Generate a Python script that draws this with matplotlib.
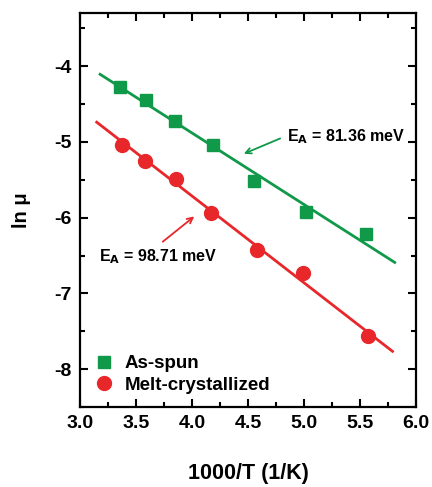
import numpy as np
import matplotlib.pyplot as plt
from matplotlib.ticker import MultipleLocator

plt.rcParams['font.family'] = ['Liberation Sans', 'DejaVu Sans']
plt.rcParams['font.weight'] = 'bold'
plt.rcParams['axes.unicode_minus'] = False

# data
x_spun = np.array([3.36, 3.59, 3.85, 4.19, 4.55, 5.02, 5.55])
y_spun = np.array([-4.27, -4.45, -4.73, -5.04, -5.52, -5.93, -6.22])
x_melt = np.array([3.38, 3.58, 3.86, 4.17, 4.58, 4.99, 5.57])
y_melt = np.array([-5.04, -5.25, -5.49, -5.94, -6.42, -6.73, -7.56])
ea_spun = 81.36   # meV
ea_melt = 98.71
fit_x_spun = [3.18, 5.81]
fit_x_melt = [3.15, 5.79]

green = '#11994a'
red = '#e8272b'
kB = 8.617e-5  # eV/K


def arrhenius_line(x, y, ea, xr):
    # slope fixed by activation energy, intercept through data mean
    slope = -ea * 1e-3 / kB / 1000
    b = y.mean() - slope * x.mean()
    xr = np.array(xr)
    return xr, b + slope * xr


fig = plt.figure(figsize=(4.32, 4.87), dpi=100)
ax = fig.add_axes([0.185, 0.164, 0.778, 0.809])

lx, ly = arrhenius_line(x_spun, y_spun, ea_spun, fit_x_spun)
ax.plot(lx, ly, color=green, lw=2)
lx, ly = arrhenius_line(x_melt, y_melt, ea_melt, fit_x_melt)
ax.plot(lx, ly, color=red, lw=2)

ax.plot(x_spun, y_spun, 's', color=green, ms=9, ls='none', label='As-spun')
ax.plot(x_melt, y_melt, 'o', color=red, ms=10, ls='none', label='Melt-crystallized')

ax.annotate('', xy=(4.44, -5.17), xytext=(4.81, -4.94),
            arrowprops=dict(arrowstyle='->', color=green, lw=1.3))
ax.text(4.85, -4.93, r'E$_\mathbf{A}$ = 81.36 meV', fontsize=11.5,
        fontweight='bold', va='center')
ax.annotate('', xy=(4.04, -5.96), xytext=(3.72, -6.34),
            arrowprops=dict(arrowstyle='->', color=red, lw=1.3))
ax.text(3.17, -6.52, r'E$_\mathbf{A}$ = 98.71 meV', fontsize=11.5,
        fontweight='bold', va='center')

ax.set_xlim(3.0, 6.0)
ax.set_ylim(-8.5, -3.3)
ax.xaxis.set_major_locator(MultipleLocator(0.5))
ax.xaxis.set_minor_locator(MultipleLocator(0.25))
ax.yaxis.set_major_locator(MultipleLocator(1))
ax.yaxis.set_minor_locator(MultipleLocator(0.5))
ax.tick_params(which='both', direction='in', top=True, right=True, width=1.5)
ax.tick_params(which='major', length=6, labelsize=14, pad=6)
ax.tick_params(which='minor', length=3.5)
for s in ax.spines.values():
    s.set_linewidth(1.6)

ax.set_xlabel('1000/T (1/K)', fontsize=15.5, fontweight='bold', labelpad=22)
ax.set_ylabel('ln μ', fontsize=14.5, fontweight='bold', labelpad=17)

ax.legend(loc='lower left', frameon=False, handletextpad=0.5,
          borderaxespad=0.3, labelspacing=0.25, handlelength=1.2,
          prop={'weight': 'bold', 'size': 13.5})

fig.savefig('out.png', dpi=100)
